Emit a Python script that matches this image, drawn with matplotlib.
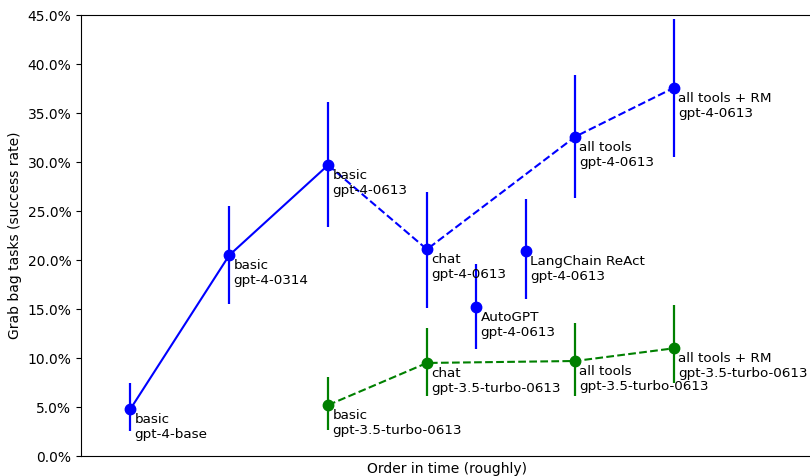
import numpy as np
import matplotlib
matplotlib.use('Agg')
import matplotlib.pyplot as plt
from matplotlib.ticker import FuncFormatter

# gpt-4 runs (x = rough position in time)
g4_x = [0, 1, 2, 3, 3.5, 4, 4.5, 5.5]
g4_rate = [4.8, 20.5, 29.7, 21.1, 15.2, 20.9, 32.6, 37.6]
g4_lo = [2.55, 15.5, 23.4, 15.1, 10.9, 16.0, 26.3, 30.5]
g4_hi = [7.45, 25.5, 36.1, 27.0, 19.6, 26.2, 38.9, 44.6]
g4_names = ['basic\ngpt-4-base', 'basic\ngpt-4-0314', 'basic\ngpt-4-0613',
            'chat\ngpt-4-0613', 'AutoGPT\ngpt-4-0613', 'LangChain ReAct\ngpt-4-0613',
            'all tools\ngpt-4-0613', 'all tools + RM\ngpt-4-0613']

# gpt-3.5 runs
g35_x = [2, 3, 4.5, 5.5]
g35_rate = [5.2, 9.5, 9.7, 11.0]
g35_lo = [2.65, 6.1, 6.1, 7.45]
g35_hi = [8.1, 13.1, 13.6, 15.4]
g35_names = ['basic\ngpt-3.5-turbo-0613', 'chat\ngpt-3.5-turbo-0613',
             'all tools\ngpt-3.5-turbo-0613', 'all tools + RM\ngpt-3.5-turbo-0613']

solid_idx = [0, 1, 2]       # old-style runs, joined with a solid line
dashed_idx = [2, 3, 6, 7]   # 0613 agent runs, dashed

fig, ax = plt.subplots(figsize=(8.1, 4.76), dpi=100)

g4_rate = np.array(g4_rate)
g4_err = [g4_rate - np.array(g4_lo), np.array(g4_hi) - g4_rate]
ax.errorbar(g4_x, g4_rate, yerr=g4_err, fmt='o', color='blue', ms=7.5, elinewidth=1.6)
ax.plot([g4_x[i] for i in solid_idx], g4_rate[solid_idx], '-', color='blue', lw=1.5)
ax.plot([g4_x[i] for i in dashed_idx], g4_rate[dashed_idx], '--', color='blue', lw=1.5)

g35_rate = np.array(g35_rate)
g35_err = [g35_rate - np.array(g35_lo), np.array(g35_hi) - g35_rate]
ax.errorbar(g35_x, g35_rate, yerr=g35_err, fmt='o', color='green', ms=7.5, elinewidth=1.6)
ax.plot(g35_x, g35_rate, '--', color='green', lw=1.5)

for x, y, s in zip(g4_x, g4_rate, g4_names):
    ax.annotate(s, (x, y), xytext=(3, -3), textcoords='offset points', va='top', ha='left', fontsize=9.7)
for x, y, s in zip(g35_x, g35_rate, g35_names):
    ax.annotate(s, (x, y), xytext=(3, -3), textcoords='offset points', va='top', ha='left', fontsize=9.7)

ax.set_xlim(-0.5, 6.9)
ax.set_ylim(0, 45)
ax.set_xticks([])
ax.yaxis.set_major_formatter(FuncFormatter(lambda v, p: '%.1f%%' % v))
ax.set_xlabel('Order in time (roughly)')
ax.set_ylabel('Grab bag tasks (success rate)')

fig.subplots_adjust(left=0.1, right=1.003, top=0.968, bottom=0.042)
plt.savefig('out.png')
